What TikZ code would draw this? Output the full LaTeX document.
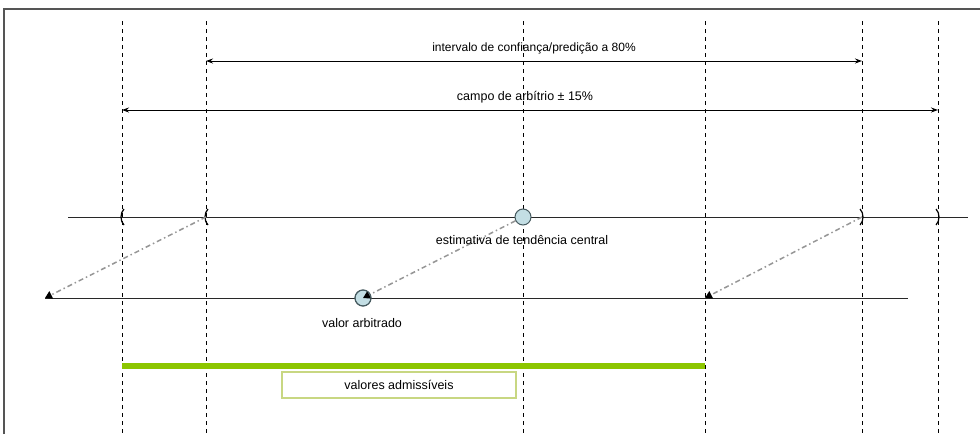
\documentclass[tikz,border=0pt]{standalone}
\usepackage{fontspec}
\setmainfont{Liberation Sans}
\usetikzlibrary{arrows.meta}
\definecolor{framegray}{RGB}{85,85,85}
\definecolor{linegray}{RGB}{40,40,40}
\definecolor{dashgray}{RGB}{150,150,150}
\definecolor{bargreen}{RGB}{140,198,0}
\definecolor{boxgreen}{RGB}{200,215,130}
\definecolor{circfill}{RGB}{195,222,228}
\definecolor{circline}{RGB}{70,90,95}
\tikzset{
  guide/.style={draw=black, line width=0.8pt, dash pattern=on 4pt off 4pt},
  dimarrow/.style={draw=black, line width=1pt, {Stealth[length=7pt,width=5pt]}-{Stealth[length=7pt,width=5pt]}},
  axis/.style={draw=linegray, line width=1pt},
  proj/.style={draw=dashgray, line width=1.5pt, dash pattern=on 5pt off 3pt on 1.5pt off 3pt, -{Triangle[length=7pt,width=8pt,color=black]}},
  lbl/.style={font=\fontsize{12.5}{14}\selectfont, text=black, inner sep=1pt},
  toplbl/.style={font=\fontsize{12}{14}\selectfont, text=black, inner sep=1pt},
  valcirc/.style={circle, draw=circline, fill=circfill, line width=1pt, minimum size=16pt, inner sep=0pt},
  bracket/.style={draw=black, line width=1.2pt}
}
\begin{document}
\begin{tikzpicture}[x=1pt,y=-1pt]
\useasboundingbox (0,0) rectangle (980,434);
% frame
\draw[framegray, line width=1.6pt] (4,434) -- (4,9) -- (980,9);
% guide lines
\foreach \n/\x in {a/122,b/206,c/523,d/705,e/862,f/938}{
  \coordinate (\n top) at (\x,21);
  \coordinate (\n bot) at (\x,434);
  \draw[guide] (\n top) -- (\n bot);
}
% dimension arrows
\coordinate (i1) at (206,61);
\coordinate (i2) at (862,61);
\draw[dimarrow] (i1) -- (i2);
\node[toplbl] (ilbl) at (534,48) {intervalo de confiança/predição a 80\%};
\coordinate (c1) at (122,110);
\coordinate (c2) at (938,110);
\draw[dimarrow] (c1) -- (c2);
\node[lbl] (clbl) at (525,97) {campo de arbítrio ± 15\%};
% upper axis
\coordinate (u0) at (68,217);
\coordinate (u1) at (968,217);
\draw[axis] (u0) -- (u1);
% lower axis
\coordinate (l0) at (45,298);
\coordinate (l1) at (908,298);
\draw[axis] (l0) -- (l1);
% brackets
\foreach \x in {122,206}{
  \draw[bracket] (\x+2,209) .. controls (\x-2,213) and (\x-2,221) .. (\x+2,225);
}
\foreach \x in {862,938}{
  \draw[bracket] (\x-2,209) .. controls (\x+2,213) and (\x+2,221) .. (\x-2,225);
}
% points on axes
\coordinate (ub) at (206,217);
\coordinate (ue) at (862,217);
\coordinate (ld) at (705,298);
% green bar
\coordinate (g0) at (122,366);
\coordinate (g1) at (705,366);
\draw[bargreen, line width=6pt] (g0) -- (g1);
% circles
\node[valcirc] (est) at (523,217) {};
\node[valcirc] (arb) at (363,298) {};
% projections
\draw[proj] (ub) -- (l0);
\draw[proj] (est) -- (arb.center);
\draw[proj] (ue) -- (ld);
\node[valcirc, fill=none] (arbring) at (363,298) {};
% labels
\node[lbl] (elbl) at (522,240) {estimativa de tendência central};
\node[lbl] (albl) at (362,323) {valor arbitrado};
% box
\node[lbl, draw=boxgreen, line width=1.2pt, minimum width=234pt, minimum height=26pt] (adm) at (399,385) {valores admissíveis};
\end{tikzpicture}
\end{document}
